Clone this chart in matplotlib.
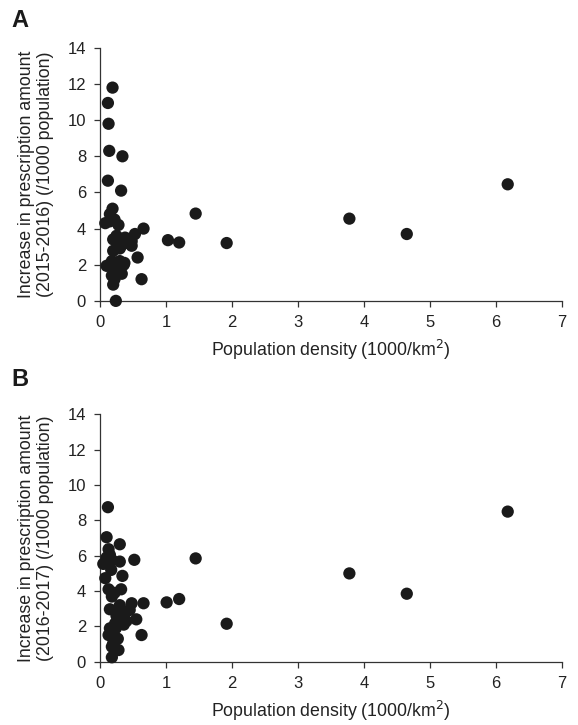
import matplotlib
matplotlib.use("Agg")
import matplotlib.pyplot as plt

# Panel A: 2015-2016
density_a = [0.19, 0.12, 0.13, 0.14, 0.34, 0.12, 0.32, 0.19, 0.15, 0.08,
             0.28, 0.66, 0.53, 0.20, 0.33, 0.48, 0.48, 0.20, 0.57, 0.10,
             0.30, 0.37, 0.25, 0.18, 0.33, 0.20, 0.63, 0.24, 1.03, 1.20,
             1.45, 1.92, 3.78, 4.65, 6.18,
             0.15, 0.22, 0.25, 0.38, 0.42, 0.30, 0.18, 0.27, 0.36, 0.22,
             0.31, 0.47]
increase_a = [11.8, 10.95, 9.8, 8.3, 8.0, 6.65, 6.1, 5.1, 4.8, 4.3,
              4.2, 4.0, 3.7, 3.4, 3.3, 3.3, 3.05, 2.77, 2.4, 1.94,
              2.2, 2.1, 1.66, 1.4, 1.5, 0.9, 1.2, 0.0, 3.36, 3.23,
              4.83, 3.2, 4.55, 3.7, 6.45,
              4.4, 4.5, 3.6, 3.5, 3.2, 2.9, 2.2, 1.9, 2.0, 1.2,
              3.0, 3.4]

# Panel B: 2016-2017
density_b = [0.12, 0.10, 0.30, 0.13, 0.15, 0.18, 0.05, 0.30, 0.52, 0.08,
             0.34, 0.13, 0.32, 0.18, 0.48, 0.66, 0.15, 0.28, 0.45, 0.55,
             0.33, 0.23, 0.15, 0.63, 0.13, 0.20, 0.28, 0.18, 1.01, 1.20,
             1.45, 1.92, 3.78, 4.65, 6.18,
             0.22, 0.25, 0.36, 0.40, 0.20, 0.27, 0.17, 0.10, 0.30, 0.38,
             0.24, 0.18]
increase_b = [8.75, 7.05, 6.65, 6.37, 6.05, 5.77, 5.54, 5.67, 5.77, 4.73,
              4.86, 4.1, 4.1, 3.69, 3.31, 3.31, 2.97, 2.97, 2.93, 2.4,
              2.46, 2.17, 1.89, 1.51, 1.51, 1.04, 0.66, 0.25, 3.36, 3.55,
              5.85, 2.15, 5.0, 3.85, 8.5,
              3.9, 2.6, 2.1, 2.3, 1.6, 1.3, 5.2, 5.9, 3.2, 2.8,
              1.9, 0.85]

panels = [
    ("A", density_a, increase_a, "(2015-2016)"),
    ("B", density_b, increase_b, "(2016-2017)"),
]

plt.rcParams["font.family"] = ["Liberation Sans", "DejaVu Sans"]
fig = plt.figure(figsize=(5.78, 7.25), dpi=100)

rects = [[0.173, 0.585, 0.799, 0.349], [0.173, 0.0873, 0.799, 0.341]]
letter_y = [0.988, 0.493]

for (letter, xs, ys, period), rect, ly in zip(panels, rects, letter_y):
    ax = fig.add_axes(rect)
    ax.scatter(xs, ys, s=78, color="#1a1a1a", edgecolors="none", zorder=3,
               clip_on=False)
    ax.set_xlim(0, 7)
    ax.set_ylim(0, 14)
    ax.set_xticks(range(0, 8))
    ax.set_yticks(range(0, 15, 2))
    for side in ("top", "right"):
        ax.spines[side].set_visible(False)
    for side in ("left", "bottom"):
        ax.spines[side].set_color("#333333")
        ax.spines[side].set_linewidth(0.9)
    ax.tick_params(direction="out", length=4, width=0.9, colors="#333333",
                   labelsize=12, labelcolor="#222222")
    ax.tick_params(axis="y", pad=6)
    ax.tick_params(axis="x", pad=6)
    ax.set_xlabel("Population density (1000/km$^2$)", fontsize=12.8,
                  color="#222222", labelpad=6)
    ax.set_ylabel("Increase in prescription amount\n" + period
                  + " (/1000 population)", fontsize=12.8, color="#222222",
                  labelpad=10, linespacing=1.1)
    fig.text(0.02, ly, letter, fontsize=17, fontweight="bold",
             color="#1a1a1a", va="top")

fig.savefig("out.png", dpi=100)
